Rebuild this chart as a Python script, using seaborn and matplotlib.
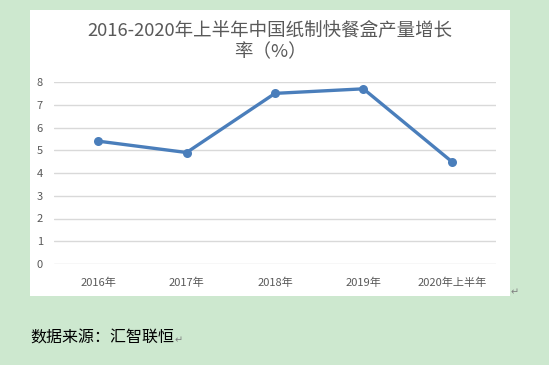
import matplotlib
matplotlib.use("Agg")
import matplotlib.pyplot as plt
import seaborn as sns
import pandas as pd

categories = ["2016年", "2017年", "2018年", "2019年", "2020年上半年"]
growth = [5.4, 4.9, 7.5, 7.7, 4.5]
yticks = [0, 1, 2, 3, 4, 5, 6, 7, 8]
title_line1 = "2016-2020年上半年中国纸制快餐盒产量增长"
title_line2 = "率（%）"
source = "数据来源：汇智联恒"

sns.set_theme(style="white")
plt.rcParams['font.family'] = ['Noto Sans CJK SC', 'DejaVu Sans']

W, H = 549, 365
fig = plt.figure(figsize=(W / 100, H / 100), dpi=100)
fig.patch.set_facecolor("#CDE8CF")

# white chart box
bg = fig.add_axes([30 / W, 1 - 296 / H, 480 / W, 286 / H], zorder=0)
bg.set_facecolor("white")
bg.set_xticks([])
bg.set_yticks([])
for s in bg.spines.values():
    s.set_visible(False)

ax = fig.add_axes([54 / W, 1 - 264 / H, 442 / W, 182 / H], zorder=1)
ax.set_facecolor("none")

df = pd.DataFrame({"cat": categories, "val": growth})
sns.lineplot(data=df, x="cat", y="val", ax=ax, color="#4A7EBB", linewidth=2.4,
             marker="o", markersize=6.5, markeredgewidth=0, sort=False)

ax.set_xlim(-0.5, len(categories) - 0.5)
ax.set_ylim(0, 8)
ax.set_yticks(yticks)
ax.set_yticklabels([str(t) for t in yticks])
ax.grid(axis="y", color="#D9D9D9", linewidth=1)
ax.grid(axis="x", visible=False)
ax.set_axisbelow(True)
for s in ax.spines.values():
    s.set_visible(False)
ax.tick_params(axis="both", length=0, labelsize=8, colors="#595959")
ax.tick_params(axis="x", pad=10)
ax.tick_params(axis="y", pad=8)
ax.set_xlabel("")
ax.set_ylabel("")

fig.text(270 / W, 1 - 30 / H, title_line1, ha="center", va="center", fontsize=13.3,
         color="#595959", zorder=3)
fig.text(270 / W, 1 - 52 / H, title_line2, ha="center", va="center", fontsize=13.3,
         color="#595959", zorder=3)

fig.text(30 / W, 1 - 338 / H, source, ha="left", va="center", fontsize=11.5,
         color="#000000")
fig.text(175 / W, 1 - 340 / H, "↵", ha="left", va="center", fontsize=7,
         color="#808080", family=["DejaVu Sans"])
fig.text(511 / W, 1 - 292 / H, "↵", ha="left", va="center", fontsize=7,
         color="#808080", family=["DejaVu Sans"])

fig.savefig("out.png", dpi=100, facecolor=fig.get_facecolor())
